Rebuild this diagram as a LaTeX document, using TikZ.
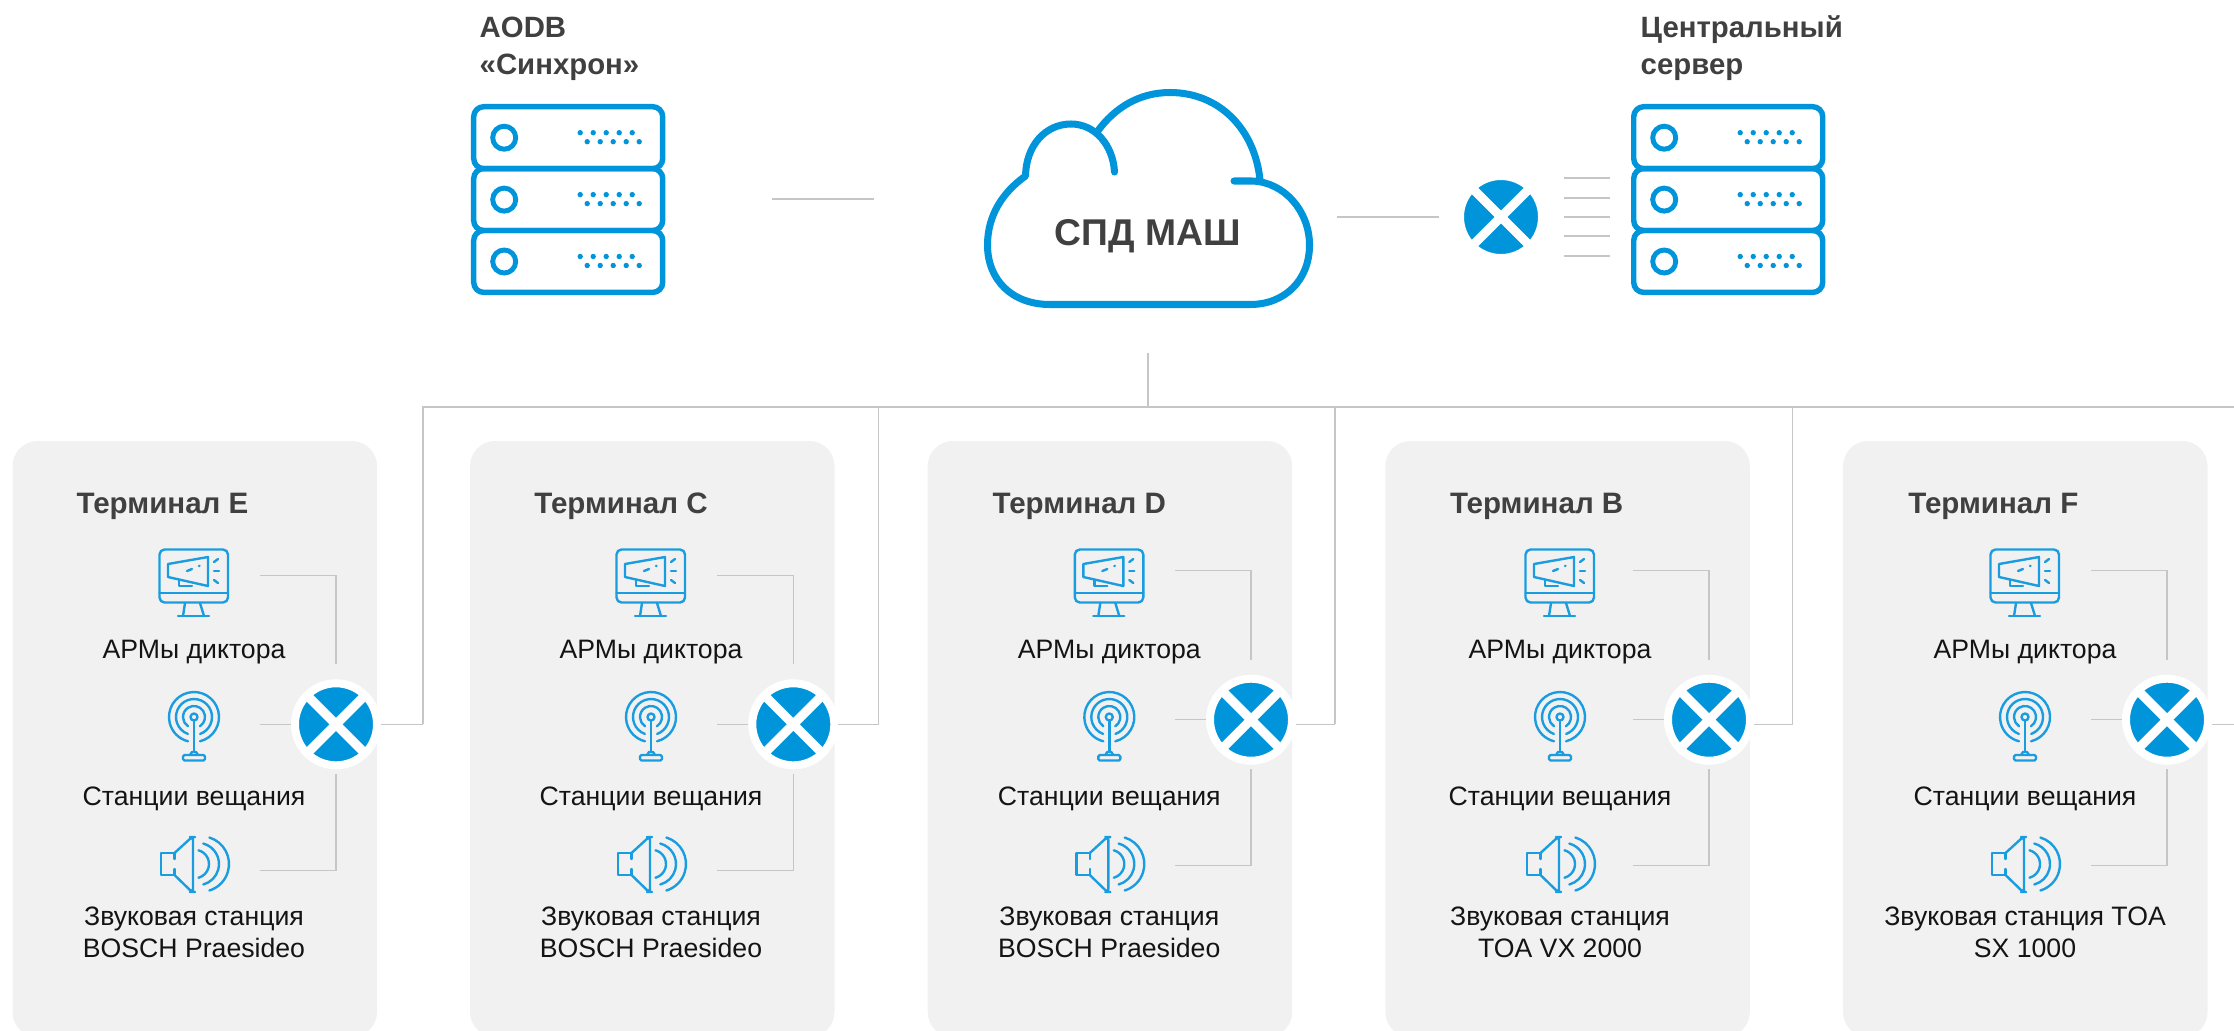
\documentclass[tikz,border=0pt]{standalone}
\usepackage{fontspec}
\setmainfont{Liberation Sans}
\definecolor{srvblue}{HTML}{0095DA}
\definecolor{icoblue}{HTML}{1A9DE0}
\definecolor{wiregray}{HTML}{C6C6C6}
\definecolor{panelgray}{HTML}{F1F1F1}
\definecolor{headgray}{HTML}{404040}
\tikzset{
	wire/.style={wiregray,line width=0.42pt},
	panel/.style={fill=panelgray,rounded corners=0.25cm},
	heading/.style={anchor=base west,inner sep=0pt,text=headgray,font=\bfseries\fontsize{8.4}{10}\selectfont},
	toplabel/.style={anchor=base west,inner sep=0pt,align=left,text=headgray,font=\bfseries\fontsize{8.35}{10.3}\selectfont},
	caption/.style={inner sep=0pt,align=center,text=black!92,font=\fontsize{7.58}{9.1}\selectfont},
	icon/.style={icoblue,line width=0.68pt,line cap=round,line join=round},
	switchnode/.style={circle,minimum size=0.82cm,inner sep=0pt,draw=white,line width=2.28pt,fill=srvblue,
		path picture={
			\draw[white,line width=2.6pt] (path picture bounding box.north west) -- (path picture bounding box.south east);
			\draw[white,line width=2.6pt] (path picture bounding box.north east) -- (path picture bounding box.south west);
		}},
	pics/server/.style={code={
		\foreach \n in {0,1,2} {
			\draw[srvblue,line width=1.55pt,rounded corners=0.1cm] (0,{2.7+\n*61.9}) rectangle (189,{64.6+\n*61.9});
			\draw[srvblue,line width=1.4pt] (30.5,{33.7+\n*61.9}) circle (11.5);
			\foreach \d in {0,1,2,3,4} {
				\fill[srvblue] ({106.5+\d*13},{28.7+\n*61.9}) circle (2.7);
				\fill[srvblue] ({113.5+\d*13},{37.7+\n*61.9}) circle (2.7);
			}
		}
	}},
	pics/monitor/.style={code={
		\draw[icon,rounded corners=0.05cm] (-34.5,-25.5) rectangle (34,27.5);
		\draw[icon] (-34.5,18) -- (34,18);
		\draw[icon] (-9,28) -- (-11,41);
		\draw[icon] (6,28) -- (10,41);
		\draw[icon] (-16,41) -- (15,41);
		\draw[icon] (-26,-11) -- (14,-18) -- (14,11) -- (-26,2) -- cycle;
		\draw[icon] (-15,5) -- (-15,11) -- (-2,11);
		\draw[icon] (-7,-4) -- (-2,-6);
		\draw[icon] (5,-9) -- (5.5,-9.2);
		\draw[icon] (20,-13) -- (24,-16);
		\draw[icon] (20,-4) -- (25,-4);
		\draw[icon] (20,5) -- (24,8);
	}},
	pics/antenna/.style={code={
		\draw[icon] (0,0) circle (3.5);
		\draw[icon] (76:25) arc (76:-256:25);
		\draw[icon] (70:18) arc (70:-250:18);
		\draw[icon] (57:11) arc (57:-237:11);
		\draw[icon] (0,3.5) -- (0,35);
		\draw[icon] (-4,38) -- (-2,35) -- (2,35) -- (4,38);
		\draw[icon,rounded corners=0.015cm] (-11,38) rectangle (11,43.5);
	}},
	pics/speaker/.style={code={
		\draw[icon] (-19.5,-5) -- (-19.5,-11) -- (-33,-11) -- (-33,11) -- (-19.5,11) -- (-19.5,5);
		\draw[icon,rounded corners=0.03cm] (-19.5,-11) -- (-2,-27) -- (-1,-27) -- (-1,28) -- (-2,28) -- (-19.5,11);
		\draw[icon] ([shift={(-75:14.2)}]0.8,0) arc (-75:75:14.2);
		\draw[icon] ([shift={(-75:21.2)}]3.8,0) arc (-75:75:21.2);
		\draw[icon] ([shift={(-73:27.7)}]7.3,0) arc (-73:73:27.7);
	}}
}
% name, panel left, heading x, icon column, switch x, switch y, tap x, sound text
\newcommand{\terminal}[8]{
	\fill[panel] (#2,441) rectangle ++(364.5,596);
	\node[heading] (head#1) at (#3,513.5) {Терминал #1};
	% icons and captions
	\pic at (#4,575) {monitor};
	\pic at (#4,717) {antenna};
	\pic at (#4,864) {speaker};
	\node[caption,anchor=base] (arm#1) at (#4,658.7) {АРМы диктора};
	\node[caption,anchor=base] (sta#1) at (#4,805.5) {Станции вещания};
	\node[caption] (snd#1) at (#4,932.5) {#8};
	% switch and its wires
	\node[switchnode] (sw#1) at (#5,#6) {};
	\coordinate (mon#1) at (#5-76,#6-149);
	\coordinate (ant#1) at (#5-76,#6);
	\coordinate (spk#1) at (#5-76,#6+146);
	\coordinate (out#1) at (#5+45,724.3);
	\coordinate (tap#1) at (#7,724.3);
	\draw[wire,shorten >=0.15cm] (mon#1) -| (sw#1.north);
	\draw[wire] (ant#1) -- (sw#1.west);
	\draw[wire,shorten <=0.045cm] (sw#1.south) |- (spk#1);
	\draw[wire] (out#1) -- (tap#1);
}
\begin{document}
\begin{tikzpicture}[x=0.01cm,y=-0.01cm]
	\clip (0,0) rectangle (2234,1030);

	% Servers
	\pic at (473.7,104) {server};
	\pic at (1633.7,104) {server};
	\node[toplabel] (aodb) at (479,74) {AODB\\«Синхрон»};
	\node[toplabel] (central) at (1640,74) {Центральный\\сервер};

	% Cloud
	\draw[srvblue,line width=2pt,line cap=round,line join=round]
	(1114.5,172) .. controls (1113,145) and (1095,124) .. (1071,124)
	.. controls (1045,124) and (1026,146) .. (1025.5,176)
	.. controls (1003,192) and (987.5,215) .. (987.5,245)
	.. controls (987.5,280) and (1012,304.5) .. (1050,304.5)
	-- (1250,304.5)
	.. controls (1285,304.5) and (1309.5,280) .. (1309.5,245)
	.. controls (1309.5,212) and (1285,182) .. (1252,181) -- (1234,181);
	\draw[srvblue,line width=2pt,line cap=round]
	(1097,132) .. controls (1115,107) and (1140,92.5) .. (1170,92.5)
	.. controls (1220,92.5) and (1255,130) .. (1260,180);
	\node[inner sep=0pt,text=headgray,font=\bfseries\fontsize{10.6}{12}\selectfont] (spd) at (1148,236.5) {СПД МАШ};

	% Top wires
	\node[switchnode] (swTop) at (1501,217) {};
	\coordinate (syncOut) at (772,199);
	\coordinate (cloudIn) at (874,199);
	\coordinate (cloudOut) at (1337,217);
	\coordinate (swIn) at (1439,217);
	\draw[wire] (syncOut) -- (cloudIn);
	\draw[wire] (cloudOut) -- (swIn);
	\foreach \y in {178,198,217,236,256} {
		\draw[wire] (1564,\y) -- (1610,\y);
	}

	% Terminals
	\terminal{E}{12.5}{76}{194}{336}{724.3}{423}{Звуковая станция\\BOSCH Praesideo}
	\terminal{C}{470}{533.7}{651}{793.3}{724.3}{878.7}{Звуковая станция\\BOSCH Praesideo}
	\terminal{D}{927.7}{992}{1109.3}{1251}{719.7}{1335}{Звуковая станция\\BOSCH Praesideo}
	\terminal{B}{1385.3}{1449.3}{1560}{1709}{719.7}{1792.7}{Звуковая станция\\TOA VX 2000}
	\terminal{F}{1843}{1907.7}{2025}{2167}{719.7}{2234}{Звуковая станция TOA\\SX 1000}

	% Bus
	\coordinate (cloudBot) at (1148,353);
	\coordinate (busEnd) at (2234,407);
	\draw[wire] (tapE) -- (tapE |- busEnd) -- (busEnd);
	\draw[wire] (cloudBot) -- (cloudBot |- busEnd);
	\draw[wire] (tapC) -- (tapC |- busEnd);
	\draw[wire] (tapD) -- (tapD |- busEnd);
	\draw[wire] (tapB) -- (tapB |- busEnd);
\end{tikzpicture}
\end{document}
